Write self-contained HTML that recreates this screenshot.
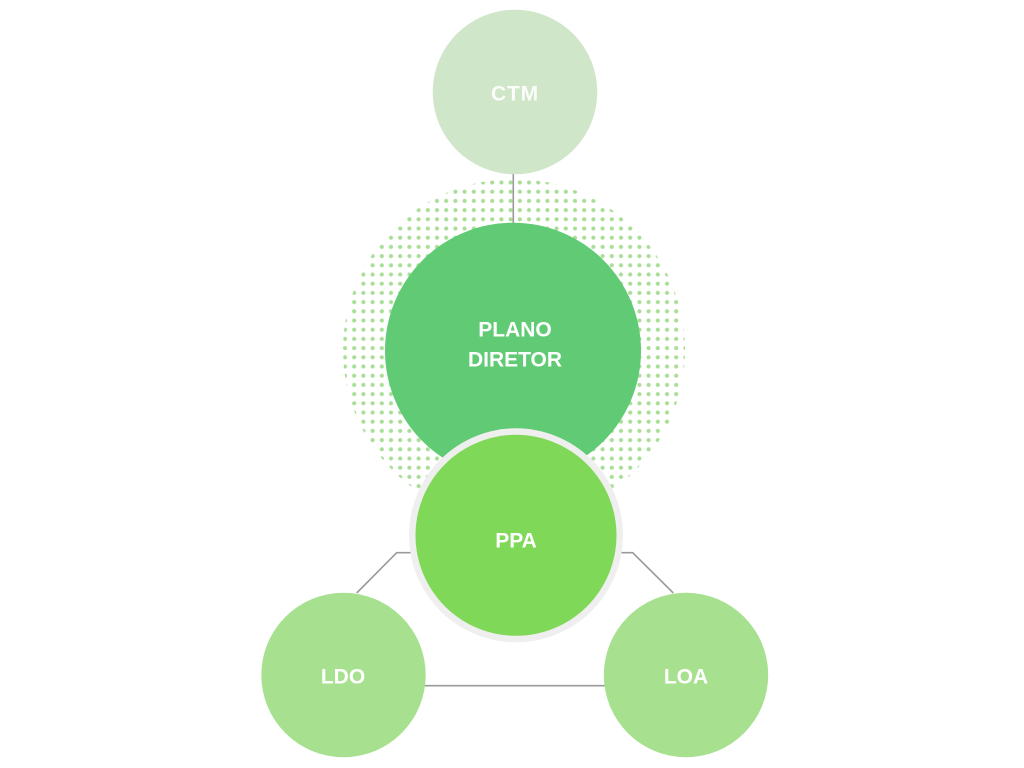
<!DOCTYPE html>
<html>
<head>
<meta charset="utf-8">
<style>
  html, body { margin: 0; padding: 0; background: #ffffff; }
  body { width: 1024px; height: 768px; overflow: hidden; }
  svg { display: block; }
  text { font-family: "Liberation Sans", "DejaVu Sans", sans-serif; font-weight: bold; font-size: 21px; fill: #ffffff; text-anchor: middle; }
</style>
</head>
<body>
<svg width="1024" height="768" viewBox="0 0 1024 768" xmlns="http://www.w3.org/2000/svg">
  <defs>
    <pattern id="dots" x="506" y="177.9" width="9.2" height="9.2" patternUnits="userSpaceOnUse">
      <circle cx="4.6" cy="4.6" r="2.1" fill="#a9de97"/>
    </pattern>
    <clipPath id="dotclip">
      <circle cx="514" cy="350" r="171"/>
    </clipPath>
  </defs>

  <!-- dotted halo -->
  <rect x="340" y="175" width="350" height="350" fill="url(#dots)" clip-path="url(#dotclip)"/>

  <!-- connectors -->
  <line x1="513.3" y1="172" x2="513.3" y2="226" stroke="#9a9a9a" stroke-width="1.6"/>
  <polyline points="412,552.7 396.7,552.7 356.7,593" fill="none" stroke="#9a9a9a" stroke-width="1.6"/>
  <polyline points="620,552.7 632.7,552.7 673.3,593" fill="none" stroke="#9a9a9a" stroke-width="1.6"/>
  <line x1="424" y1="685.7" x2="606" y2="685.7" stroke="#9a9a9a" stroke-width="1.6"/>

  <!-- CTM -->
  <circle cx="515" cy="92" r="82.3" fill="#cfe6c8"/>
  <text x="515" y="100.7" style="letter-spacing:0.8px" fill-opacity="0.9">CTM</text>

  <!-- Plano Diretor -->
  <circle cx="513" cy="350.7" r="128" fill="#60cb74"/>
  <text x="515" y="336.7">PLANO</text>
  <text x="515" y="366.7">DIRETOR</text>

  <!-- PPA -->
  <circle cx="516" cy="535.3" r="107" fill="#efefef"/>
  <circle cx="516" cy="535.3" r="100.5" fill="#80d858"/>
  <text x="516" y="547.3">PPA</text>

  <!-- LDO -->
  <circle cx="343.5" cy="675" r="82.2" fill="#a7e190"/>
  <text x="343" y="683.3">LDO</text>

  <!-- LOA -->
  <circle cx="686" cy="675" r="82.2" fill="#a7e190"/>
  <text x="686" y="683.3">LOA</text>
</svg>
</body>
</html>
